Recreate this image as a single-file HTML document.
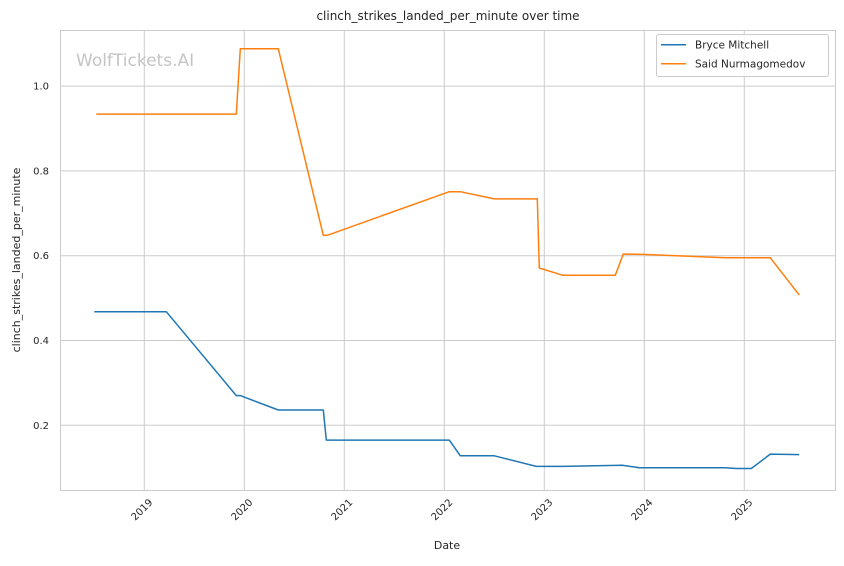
<!DOCTYPE html>
<html><head><meta charset="utf-8"><style>
html,body{margin:0;padding:0;background:#fff;}
svg text{font-family:"DejaVu Sans","Liberation Sans",sans-serif;fill:#262626;}
</style></head><body>
<svg id="chart" width="844" height="561" viewBox="0 0 844 561" xmlns="http://www.w3.org/2000/svg">
<rect x="0" y="0" width="844" height="561" fill="#fff"/>
<text x="448" y="20" font-size="12" text-anchor="middle">clinch_strikes_landed_per_minute over time</text>
<g id="grid"></g>
<g id="xticks"></g>
<g id="yticks"></g>
<rect x="60.5" y="30.5" width="775" height="460" fill="none" stroke="#cccccc" stroke-width="1"/>
<text x="76" y="66" font-size="17" style="fill:#c4c4c4">WolfTickets.AI</text>
<g id="series"></g>
<text x="447" y="549" font-size="11" text-anchor="middle">Date</text>
<text x="20" y="260" font-size="11" text-anchor="middle" transform="rotate(-90 20 260)">clinch_strikes_landed_per_minute</text>
<g>
<rect x="656.5" y="34.5" width="172" height="42" rx="2" fill="#fff" fill-opacity="0.8" stroke="#cccccc"/>
<line x1="661" y1="44.7" x2="686" y2="44.7" stroke="#1f77b4" stroke-width="1.5"/>
<text x="695" y="48.7" font-size="10.5">Bryce Mitchell</text>
<line x1="661" y1="63.7" x2="686" y2="63.7" stroke="#ff7f0e" stroke-width="1.5"/>
<text x="695" y="67.7" font-size="10.5">Said Nurmagomedov</text>
</g>
</svg>
<script>
const xTickYears = [2019, 2020, 2021, 2022, 2023, 2024, 2025];
const yTickValues = [0.2, 0.4, 0.6, 0.8, 1.0];
const yTickLabels = ["0.2", "0.4", "0.6", "0.8", "1.0"];
const bryceDates = [2018.50, 2019.22, 2019.92, 2019.96, 2020.34, 2020.79, 2020.82, 2022.05, 2022.16, 2022.50, 2022.92, 2023.18, 2023.78, 2023.95, 2024.81, 2024.92, 2025.07, 2025.26, 2025.55];
const bryceValues = [0.468, 0.468, 0.270, 0.270, 0.236, 0.236, 0.165, 0.165, 0.128, 0.128, 0.103, 0.103, 0.106, 0.100, 0.100, 0.098, 0.098, 0.132, 0.131];
const saidDates = [2018.52, 2019.92, 2019.96, 2020.34, 2020.79, 2020.83, 2022.05, 2022.16, 2022.50, 2022.93, 2022.95, 2023.18, 2023.71, 2023.79, 2023.99, 2024.81, 2025.26, 2025.55];
const saidValues = [0.934, 0.934, 1.088, 1.088, 0.648, 0.648, 0.751, 0.751, 0.734, 0.734, 0.571, 0.554, 0.554, 0.604, 0.603, 0.595, 0.595, 0.507];

const NS = "http://www.w3.org/2000/svg";
function xScale(yr){ return 144.3 + (yr - 2019) * 100; }
function yScale(v){ return 425.3 - (v - 0.2) * 424; }
function mk(tag, attrs, parent){ const e=document.createElementNS(NS,tag); for(const k in attrs) e.setAttribute(k, attrs[k]); parent.appendChild(e); return e; }

const grid=document.getElementById('grid'), xt=document.getElementById('xticks'), yt=document.getElementById('yticks'), ser=document.getElementById('series');
xTickYears.forEach(yr=>{
  const x=xScale(yr);
  const g=mk('line',{x1:x,y1:30,x2:x,y2:490,stroke:'#cccccc','stroke-width':1},grid);
  
  
  const ax=x+9, ay=503;
  const t=mk('text',{x:ax,y:ay,'font-size':10,'text-anchor':'end',transform:`rotate(-45 ${ax} ${ay})`},xt);
  t.textContent=String(yr);
  
  
});
yTickValues.forEach((v,i)=>{
  const y=yScale(v);
  const g=mk('line',{x1:60,y1:y,x2:835,y2:y,stroke:'#cccccc','stroke-width':1},grid);
  
  
  const t=mk('text',{x:49,y:y+3.5,'font-size':10,'text-anchor':'end'},yt);
  t.textContent=yTickLabels[i];
  
  
});
function drawLine(dates, vals, color, name){
  const pts=dates.map((d,i)=>xScale(d).toFixed(1)+','+yScale(vals[i]).toFixed(1)).join(' ');
  const p=mk('polyline',{points:pts,fill:'none',stroke:color,'stroke-width':1.5,'stroke-linejoin':'round'},ser);
  
  
}
drawLine(bryceDates, bryceValues, '#1f77b4', 'bryce-mitchell-line');
drawLine(saidDates, saidValues, '#ff7f0e', 'said-nurmagomedov-line');
</script>
</body></html>
